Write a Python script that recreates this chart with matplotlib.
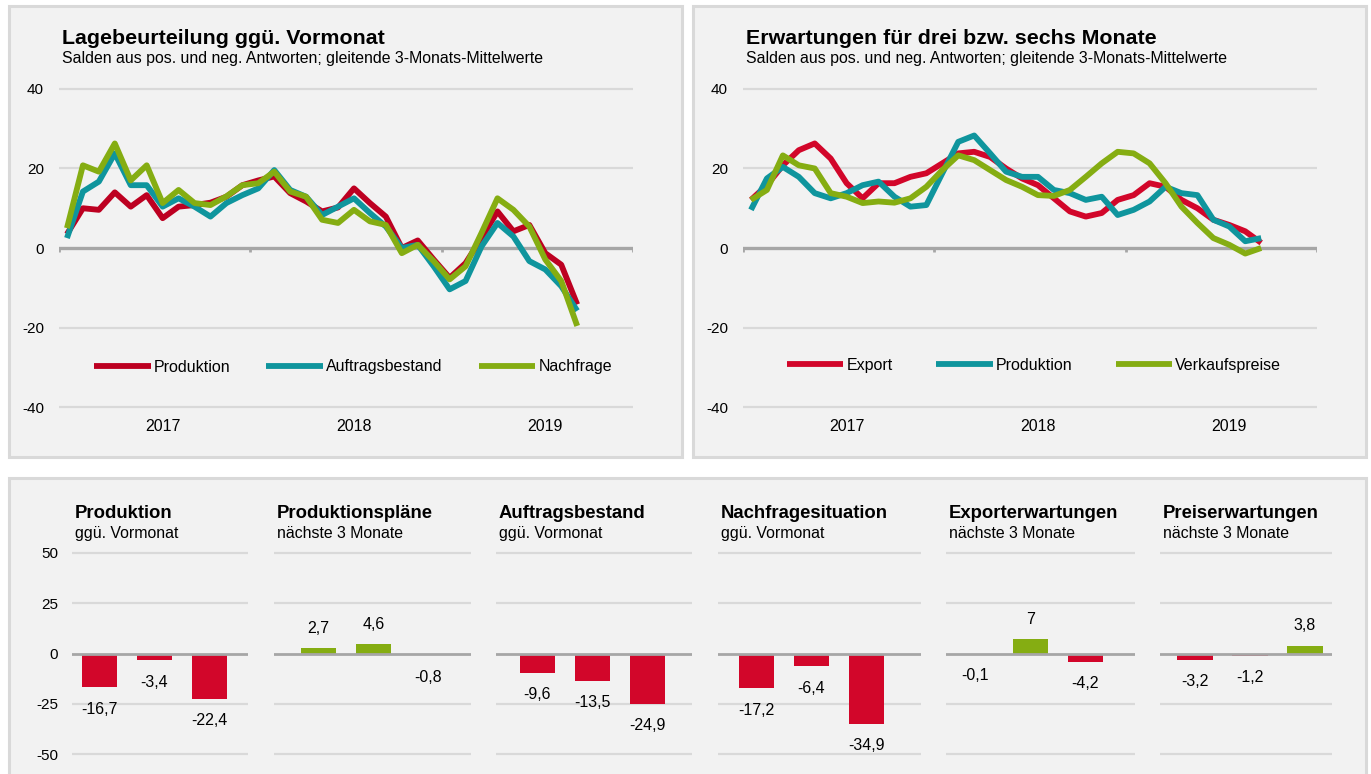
"""
Konjunkturumfrage: Lagebeurteilung, Erwartungen und aktuelle Salden.
"""
import numpy as np
import matplotlib.pyplot as plt
from matplotlib.patches import Rectangle

plt.rcParams['font.family'] = ['Liberation Sans', 'DejaVu Sans']

W, H = 1371, 774

# -- Data: monthly 3-month moving averages, Jan 2017 .. Sep 2019 --
years = ['2017', '2018', '2019']

lage_produktion = [3.5, 10.0, 9.6, 14.0, 10.4, 13.3, 7.5, 10.4, 10.8, 11.4, 12.9, 15.8,
                   17.0, 18.0, 13.8, 11.7, 9.2, 10.2, 15.0, 11.3, 7.9, 0.0, 1.9, -2.9,
                   -7.5, -3.8, 2.5, 9.2, 4.2, 5.8, -1.3, -4.2, -14.2]
lage_auftrag = [2.5, 14.2, 16.7, 23.8, 15.8, 15.8, 10.4, 12.5, 10.4, 7.9, 11.3, 13.3,
                15.0, 19.6, 14.6, 12.9, 8.3, 10.4, 12.5, 8.8, 5.4, 0.0, 0.8, -4.6,
                -10.4, -8.3, 0.4, 6.3, 2.9, -3.3, -5.4, -9.6, -15.8]
lage_nachfrage = [5.0, 20.8, 19.2, 26.3, 17.0, 20.8, 11.3, 14.6, 11.3, 10.8, 13.0, 15.8,
                  16.3, 19.2, 14.2, 12.9, 7.1, 6.3, 9.6, 6.7, 5.8, -1.3, 0.8, -3.3,
                  -7.9, -4.6, 3.8, 12.5, 9.6, 5.4, -2.9, -8.3, -19.6]

erw_export = [12.1, 15.8, 20.8, 24.6, 26.3, 22.5, 16.3, 12.5, 16.3, 16.3, 17.9, 18.8,
              21.3, 23.8, 24.2, 22.9, 20.0, 17.5, 15.8, 12.5, 9.2, 7.9, 8.8, 12.1,
              13.3, 16.3, 15.4, 12.1, 10.0, 7.1, 5.8, 4.2, 1.3]
erw_produktion = [9.6, 17.5, 20.4, 17.9, 13.8, 12.5, 13.8, 15.8, 16.7, 12.9, 10.4, 10.8,
                  18.8, 26.7, 28.3, 23.8, 19.2, 17.9, 17.9, 14.6, 13.8, 12.1, 12.9, 8.3,
                  9.6, 11.7, 15.4, 13.8, 13.3, 7.1, 5.4, 1.7, 2.5]
erw_preise = [12.1, 14.6, 23.3, 20.8, 20.0, 13.8, 12.9, 11.3, 11.7, 11.4, 12.5, 15.4,
              19.6, 23.3, 22.1, 19.6, 17.1, 15.4, 13.3, 13.1, 14.6, 17.9, 21.3, 24.2,
              23.8, 21.3, 16.3, 10.4, 6.3, 2.5, 0.8, -1.4, 0.0]

# -- Data: latest three months per indicator --
bar_titles = ['Produktion', 'Produktionspläne', 'Auftragsbestand',
              'Nachfragesituation', 'Exporterwartungen', 'Preiserwartungen']
bar_subtitles = ['ggü. Vormonat', 'nächste 3 Monate', 'ggü. Vormonat',
                 'ggü. Vormonat', 'nächste 3 Monate', 'nächste 3 Monate']
produktion = [-16.7, -3.4, -22.4]
produktionsplaene = [2.7, 4.6, -0.8]
auftragsbestand = [-9.6, -13.5, -24.9]
nachfrage = [-17.2, -6.4, -34.9]
exporterwartungen = [-0.1, 7.0, -4.2]
preiserwartungen = [-3.2, -1.2, 3.8]

RED_DARK = '#bd0021'
RED = '#d2062a'
TEAL = '#0f959d'
GREEN = '#85ad12'
GRID = '#d9d9d9'
ZERO = '#a6a6a6'
BG = '#f2f2f2'


def add_axes(fig, x0, y0, x1, y1):
    # pixel box (top-left origin) -> figure axes
    ax = fig.add_axes([x0 / W, 1 - y1 / H, (x1 - x0) / W, (y1 - y0) / H])
    ax.set_facecolor('none')
    for s in ax.spines.values():
        s.set_visible(False)
    return ax


def box(fig, x0, y0, x1, y1):
    fig.add_artist(Rectangle((x0 / W, 1 - y1 / H), (x1 - x0) / W, (y1 - y0) / H,
                             transform=fig.transFigure, facecolor=BG, edgecolor=GRID,
                             linewidth=2.2, zorder=-1))


def line_panel(fig, x0, x1, title, series, labels, colors, leg_x, leg_y, colspace):
    ax = add_axes(fig, x0, 80, x1, 416)
    ax.set_xlim(0, 36)
    ax.set_ylim(-42.26, 42.26)
    for g in [-40, -20, 20, 40]:
        ax.axhline(g, color=GRID, lw=1.6, zorder=1)
    ax.axhline(0, color=ZERO, lw=2.4, zorder=2)
    for t in [0, 12, 24, 36]:
        ax.plot([t, t], [0, -1.1], color=ZERO, lw=2, zorder=2, solid_capstyle='butt')
    x = np.arange(len(series[0])) + 0.5
    for s, lab, c in zip(series, labels, colors):
        ax.plot(x, s, color=c, lw=4.2, label=lab, zorder=3, solid_capstyle='butt')
    ax.set_yticks([-40, -20, 0, 20, 40])
    ax.set_yticklabels(['-40', '-20', '0', '20', '40'])
    ax.tick_params(axis='y', length=0, pad=10.8, labelsize=11)
    ax.set_xticks([])
    for i, y in enumerate(years):
        ax.text(6.5 + 12 * i, -45.0, y, ha='center', va='center', fontsize=11.5)
    ax.legend(loc='center', bbox_to_anchor=(leg_x / W, 1 - leg_y / H),
              bbox_transform=fig.transFigure, ncol=3, frameon=False,
              handlelength=3.55, handletextpad=0.2, columnspacing=colspace,
              fontsize=11.5)
    fig.text((x0 + 3) / W, 1 - 38 / H, title, fontsize=15.4, fontweight='bold', va='center')
    fig.text((x0 + 3) / W, 1 - 58.5 / H,
             'Salden aus pos. und neg. Antworten; gleitende 3-Monats-Mittelwerte',
             fontsize=11.4, va='center')


def fmt(v):
    if float(v).is_integer():
        return str(int(v))
    return f'{v:.1f}'.replace('.', ',')


def main():
    fig = plt.figure(figsize=(W / 100, H / 100), dpi=100)
    fig.patch.set_facecolor('white')

    box(fig, 8.5, 5.5, 681.5, 456.5)
    box(fig, 693.5, 5.5, 1365.5, 456.5)
    box(fig, 8.5, 478.5, 1365.5, 800)

    line_panel(fig, 59, 633, 'Lagebeurteilung ggü. Vormonat',
               [lage_produktion, lage_auftrag, lage_nachfrage],
               ['Produktion', 'Auftragsbestand', 'Nachfrage'],
               [RED_DARK, TEAL, GREEN], 353, 367, 2.25)
    line_panel(fig, 743, 1317, 'Erwartungen für drei bzw. sechs Monate',
               [erw_export, erw_produktion, erw_preise],
               ['Export', 'Produktion', 'Verkaufspreise'],
               [RED, TEAL, GREEN], 1034, 365.5, 2.7)

    # -- Bar panels --
    bars = [produktion, produktionsplaene, auftragsbestand,
            nachfrage, exporterwartungen, preiserwartungen]
    extents = [(72, 248), (274, 471), (496, 692), (718, 921), (946, 1135), (1160, 1332)]
    first_bar = [99.5, 318.5, 537.5, 756.5, 975.5, 1195]
    pitch = 55.0
    for k, vals in enumerate(bars):
        L, R = extents[k]
        ax = add_axes(fig, L, 545, R, 762)
        ax.set_xlim((L - first_bar[k]) / pitch, (R - first_bar[k]) / pitch)
        ax.set_ylim(-53.98, 53.98)
        for g in [-50, -25, 25, 50]:
            ax.axhline(g, color=GRID, lw=1.6, zorder=1)
        ax.axhline(0, color=ZERO, lw=2.0, zorder=3)
        cols = [GREEN if v > 0 else RED for v in vals]
        ax.bar(range(3), vals, width=0.64, color=cols, zorder=2)
        for i, v in enumerate(vals):
            off = 14.4 if v > 0 else -15.8
            ax.annotate(fmt(v), (i, v), xytext=(0, off), textcoords='offset points',
                        ha='center', va='center', fontsize=11.5)
        ax.set_xticks([])
        if k == 0:
            ax.set_yticks([-50, -25, 0, 25, 50])
            ax.set_yticklabels(['-50', '-25', '0', '25', '50'])
            ax.tick_params(axis='y', length=0, pad=10, labelsize=11)
        else:
            ax.set_yticks([])
        fig.text((L + 3) / W, 1 - 514 / H, bar_titles[k], fontsize=13.3,
                 fontweight='bold', va='center')
        fig.text((L + 3) / W, 1 - 533.5 / H, bar_subtitles[k], fontsize=11.4, va='center')

    fig.savefig('out.png', dpi=100, facecolor='white')


if __name__ == "__main__":
    main()
